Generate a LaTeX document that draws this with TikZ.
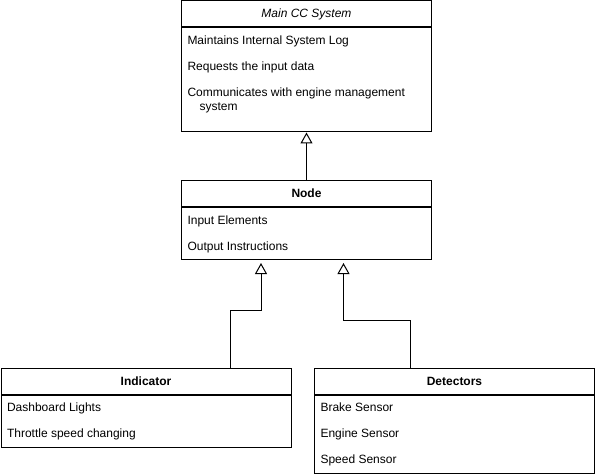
\documentclass[tikz,border=0pt]{standalone}
\usepackage{fontspec}
\setmainfont{Liberation Sans}
\usetikzlibrary{positioning,arrows.meta}

\begin{document}
\begin{tikzpicture}[x=1pt, y=-1pt, line width=1pt,
    every node/.style={font=\fontsize{12}{14}\selectfont},
    classhead/.style={draw, rectangle, anchor=north west, inner sep=0pt, minimum height=26pt},
    classbody/.style={draw, rectangle, inner sep=0pt},
    member/.style={anchor=west, inner sep=0pt, text height=8.6pt, text depth=0pt},
    inherit/.style={-{Triangle[open, length=11pt, width=12pt]}}]

    \useasboundingbox (0,0) rectangle (595,476);

    % Main CC System
    \node[classhead, minimum width=250pt] (main) at (181,0.5) {\itshape Main CC System};
    \node[classbody, minimum width=250pt, minimum height=104pt, below=0pt of main] (main body) {};
    \node[member] (log) at (187,40.7) {Maintains Internal System Log};
    \node[member] (request) at (187,66) {Requests the input data};
    \node[anchor=north west, inner sep=0pt, align=left] (comms) at (187,87.5)
        {Communicates with engine management\\\hspace*{12pt}system};

    % Node
    \node[classhead, minimum width=250pt] (node) at (181,180) {\bfseries Node};
    \node[classbody, minimum width=250pt, minimum height=52pt, below=0pt of node] (node body) {};
    \node[member] (input) at (187,220) {Input Elements};
    \node[member] (output) at (187,246) {Output Instructions};

    % Indicator
    \node[classhead, minimum width=290pt] (indicator) at (0.5,368) {\bfseries Indicator};
    \node[classbody, minimum width=290pt, minimum height=52pt, below=0pt of indicator] (indicator body) {};
    \node[member] (lights) at (6.5,407) {Dashboard Lights};
    \node[member] (throttle) at (6.5,433) {Throttle speed changing};

    % Detectors
    \node[classhead, minimum width=280pt] (detectors) at (314,368) {\bfseries Detectors};
    \node[classbody, minimum width=280pt, minimum height=78pt, below=0pt of detectors] (detectors body) {};
    \node[member] (brake) at (320,407) {Brake Sensor};
    \node[member] (engine) at (320,433) {Engine Sensor};
    \node[member] (speed) at (320,459) {Speed Sensor};

    % generalisation ends
    \coordinate (indicator in) at (230,368);
    \coordinate (indicator out) at (261,263);
    \coordinate (detectors in) at (410,368);
    \coordinate (detectors out) at (343.5,263);

    \draw[inherit] (node.north) -- (main body.south);
    \draw[inherit] (indicator in) -- ++(0,-58) -| (indicator out);
    \draw[inherit] (detectors in) -- ++(0,-48) -| (detectors out);
\end{tikzpicture}
\end{document}
